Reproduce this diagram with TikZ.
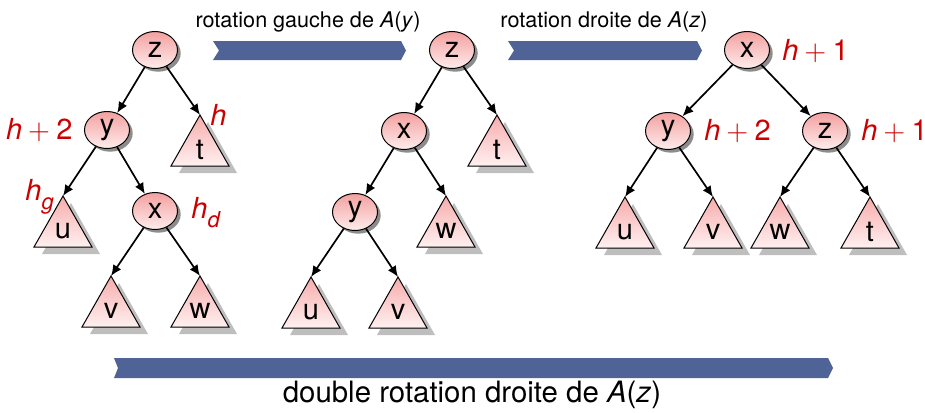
\documentclass[tikz,border=0pt]{standalone}
\usepackage{fontspec}
\setmainfont{TeX Gyre Heros}
\usetikzlibrary{arrows.meta,shadows,shapes.geometric}
\definecolor{etop}{RGB}{243,160,160}
\definecolor{ebot}{RGB}{255,236,236}
\definecolor{ttop}{RGB}{247,172,172}
\definecolor{tbot}{RGB}{255,240,240}
\definecolor{bluearrow}{RGB}{79,99,150}
\definecolor{hred}{RGB}{204,0,0}
\definecolor{tshadow}{RGB}{190,190,190}
\newcommand{\hsym}{\textit{h}}
\newcommand{\hplus}[1]{\textit{h}\hspace{0.2em}$+$\hspace{0.22em}#1}
\newcommand{\hsub}[1]{\textit{h}\raisebox{-0.32em}{\fontsize{11}{12}\selectfont\textit{#1}}}
\newcommand{\subtree}[4]{%
  \fill[tshadow] ({#2+8},{#3+7}) -- ({#2+37},{#3+58}) -- ({#2-21},{#3+58}) -- cycle;
  \shadedraw[top color=ttop, bottom color=tbot, draw=black, line width=0.5pt]
    (#2,#3) -- ({#2+29},{#3+51}) -- ({#2-29},{#3+51}) -- cycle;
  \coordinate (#1) at (#2,#3);
  \node[tlabel] (#1l) at (#2,{#3+35}) {#4};
}
\begin{document}
\begin{tikzpicture}[x=0.5pt,y=-0.5pt,
  enode/.style={ellipse, draw=black, line width=0.5pt, minimum width=22.5pt, minimum height=18.5pt,
     inner sep=0pt, top color=etop, bottom color=ebot, font=\fontsize{14.5}{16}\selectfont,
     drop shadow={shadow xshift=1.6pt, shadow yshift=-1.6pt, opacity=0.45, fill=black}},
  tlabel/.style={inner sep=0pt, font=\fontsize{14.5}{16}\selectfont},
  hlab/.style={inner sep=0pt, text=hred, font=\fontsize{14.5}{17}\selectfont},
  toplab/.style={inner sep=0pt, font=\fontsize{10.8}{13}\selectfont},
  botlab/.style={inner sep=0pt, font=\fontsize{14.7}{17}\selectfont},
  edge/.style={-{Latex[length=5.5pt,width=4.8pt]}, line width=0.85pt},
  barrow/.style={fill=bluearrow}]
\useasboundingbox (0,0) rectangle (925,412);

% big arrows
\fill[barrow] (213,41) -- (401,41) -- (406,50.5) -- (401,60) -- (213,60) -- (219,50.5) -- cycle;
\fill[barrow] (508,41) -- (697,41) -- (702,50.5) -- (697,60) -- (508,60) -- (514,50.5) -- cycle;
\fill[barrow] (114,358) -- (828,358) -- (833,368) -- (828,378) -- (114,378) -- (118,368) -- cycle;
\node[toplab, anchor=base] (lab1) at (308,27) {rotation gauche de \textit{A}(\textit{y})};
\node[toplab, anchor=base] (lab2) at (604,27) {rotation droite de \textit{A}(\textit{z})};
\node[botlab, anchor=base] (lab3) at (472,402) {double rotation droite de \textit{A}(\textit{z})};

% tree 1
\subtree{t1}{200}{115}{t}
\subtree{u1}{63}{196}{u}
\subtree{v1}{111}{276}{v}
\subtree{w1}{200}{276}{w}
\node[enode] (z1) at (155,50) {z};
\node[enode] (y1) at (107,130) {y};
\node[enode] (x1) at (155,211) {x};
\draw[edge] (z1) -- (y1);
\draw[edge] (z1) -- (t1);
\draw[edge] (y1) -- (u1);
\draw[edge] (y1) -- (x1);
\draw[edge] (x1) -- (v1);
\draw[edge] (x1) -- (w1);
\node[hlab, anchor=base east] (h1a) at (73,139) {\hplus{2}};
\node[hlab, anchor=base west] (h1b) at (210,125) {\hsym};
\node[hlab, anchor=base west] (h1c) at (25,200) {\hsub{g}};
\node[hlab, anchor=base west] (h1d) at (191,218) {\hsub{d}};

% tree 2
\subtree{t2}{497}{115}{t}
\subtree{w2}{446}{196}{w}
\subtree{u2}{311}{277}{u}
\subtree{v2}{398}{277}{v}
\node[enode] (z2) at (452,50) {z};
\node[enode] (x2) at (404,131) {x};
\node[enode] (y2) at (355,212) {y};
\draw[edge] (z2) -- (x2);
\draw[edge] (z2) -- (t2);
\draw[edge] (x2) -- (y2);
\draw[edge] (x2) -- (w2);
\draw[edge] (y2) -- (u2);
\draw[edge] (y2) -- (v2);

% tree 3
\subtree{u3}{625}{197}{u}
\subtree{v3}{713}{197}{v}
\subtree{w3}{780}{197}{w}
\subtree{t3}{870}{197}{t}
\node[enode] (x3) at (747,50) {x};
\node[enode] (y3) at (668,131) {y};
\node[enode] (z3) at (825,131) {z};
\draw[edge] (x3) -- (y3);
\draw[edge] (x3) -- (z3);
\draw[edge] (y3) -- (u3);
\draw[edge] (y3) -- (v3);
\draw[edge] (z3) -- (w3);
\draw[edge] (z3) -- (t3);
\node[hlab, anchor=base west] (h3a) at (782,60) {\hplus{1}};
\node[hlab, anchor=base west] (h3b) at (704,140) {\hplus{2}};
\node[hlab, anchor=base west] (h3c) at (861,140) {\hplus{1}};
\end{tikzpicture}
\end{document}
